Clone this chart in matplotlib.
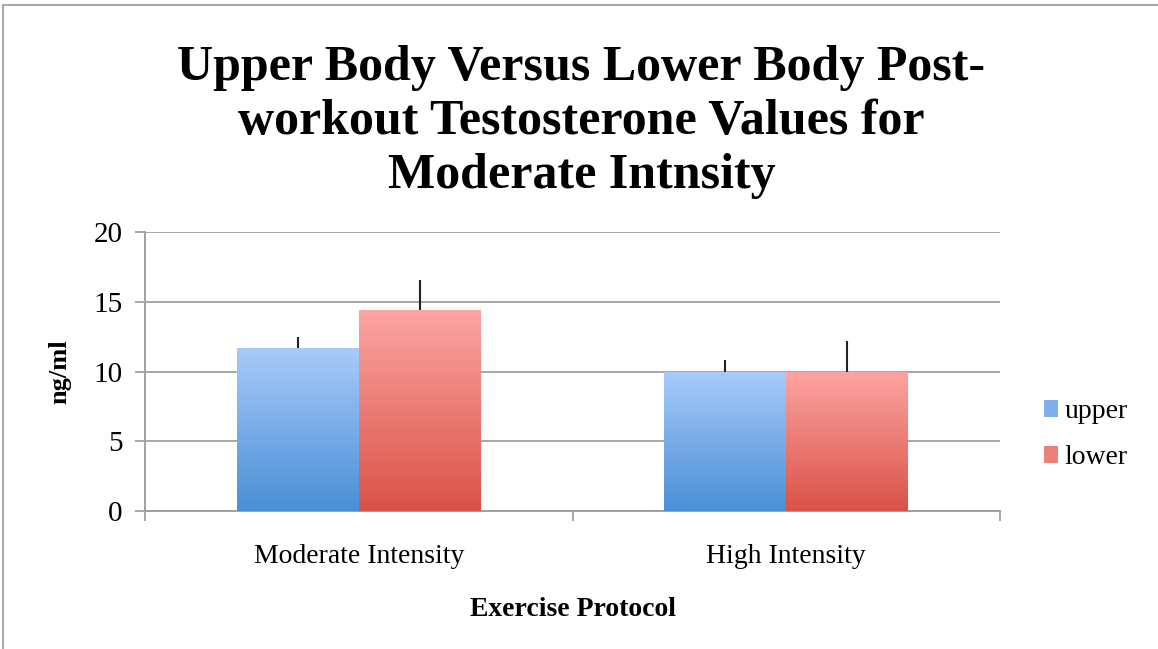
import matplotlib
matplotlib.use('Agg')
import matplotlib.pyplot as plt
import numpy as np
from matplotlib.colors import LinearSegmentedColormap
from matplotlib.patches import Rectangle

categories = ['Moderate Intensity', 'High Intensity']
series = ['upper', 'lower']
upper_vals = [11.7, 10.0]
lower_vals = [14.4, 10.0]
upper_err = [0.8, 0.8]
lower_err = [2.15, 2.2]
yticks = [0, 5, 10, 15, 20]

# top / bottom gradient colours
upper_grad = ('#a8cbfa', '#4a8fd6')
lower_grad = ('#fca5a2', '#da5247')

plt.rcParams['font.family'] = ['Liberation Serif', 'DejaVu Serif']

fig = plt.figure(figsize=(11.58, 6.49), dpi=100)
ax = fig.add_axes([0.1252, 0.2126, 0.7384, 0.4299])

x = np.arange(len(categories))
w = 0.285
grad = np.linspace(0, 1, 256).reshape(-1, 1)


def gradient_bars(xpos, vals, errs, colors):
    cmap = LinearSegmentedColormap.from_list('g', [colors[1], colors[0]])
    bars = ax.bar(xpos, vals, w, color='none', edgecolor='none', zorder=3)
    for b in bars:
        x0, y0 = b.get_x(), b.get_y()
        im = ax.imshow(grad, cmap=cmap, origin='lower', aspect='auto',
                       extent=[x0, x0 + b.get_width(), y0, y0 + b.get_height()],
                       zorder=3)
        im.set_clip_path(b)
    ax.errorbar(xpos, vals, yerr=[np.zeros(len(vals)), errs], fmt='none',
                ecolor='#222222', elinewidth=1.5, capsize=0, zorder=4)
    return cmap


cm_u = gradient_bars(x - w / 2, upper_vals, upper_err, upper_grad)
cm_l = gradient_bars(x + w / 2, lower_vals, lower_err, lower_grad)

ax.set_xlim(-0.5, 1.5)
ax.set_ylim(0, 20)
ax.set_yticks(yticks)
ax.set_xticks(x)
ax.set_xticklabels(categories, fontsize=20)
ax.tick_params(axis='x', length=0, pad=24)
ax.set_xticks([-0.5, 0.5, 1.5], minor=True)
ax.tick_params(axis='x', which='minor', length=7, color='#a0a0a0', width=1.3)
ax.tick_params(axis='y', labelsize=21, length=7, color='#a0a0a0', width=1.3, pad=9)

ax.grid(axis='y', color='#a6a6a6', linewidth=1.4, zorder=0)
ax.set_axisbelow(True)
for s in ['top', 'right']:
    ax.spines[s].set_visible(False)
for s in ['left', 'bottom']:
    ax.spines[s].set_color('#a0a0a0')
    ax.spines[s].set_linewidth(1.4)

ax.set_ylabel('ng/ml', fontsize=19, fontweight='bold', labelpad=16)
ax.set_xlabel('Exercise Protocol', fontsize=20, fontweight='bold', labelpad=20)

fig.text(0.502, 0.812, 'Upper Body Versus Lower Body Post-\nworkout Testosterone Values for\nModerate Intnsity',
         ha='center', va='center', fontsize=36, fontweight='bold', linespacing=1.24)

handles = [Rectangle((0, 0), 1, 1, facecolor=cm_u(0.55)),
           Rectangle((0, 0), 1, 1, facecolor=cm_l(0.55))]
fig.legend(handles, series, loc='center left', bbox_to_anchor=(0.88, 0.33),
           frameon=False, fontsize=20, handlelength=0.5, handleheight=0.6,
           handletextpad=0.25, labelspacing=0.75)

# page border on top and left
fig.add_artist(Rectangle((3 / 1158, -0.1), 1.2, 1 - 5 / 649 + 0.1, transform=fig.transFigure,
                         fill=False, edgecolor='#a8a8a8', linewidth=1.5))

fig.savefig('out.png', dpi=100)
